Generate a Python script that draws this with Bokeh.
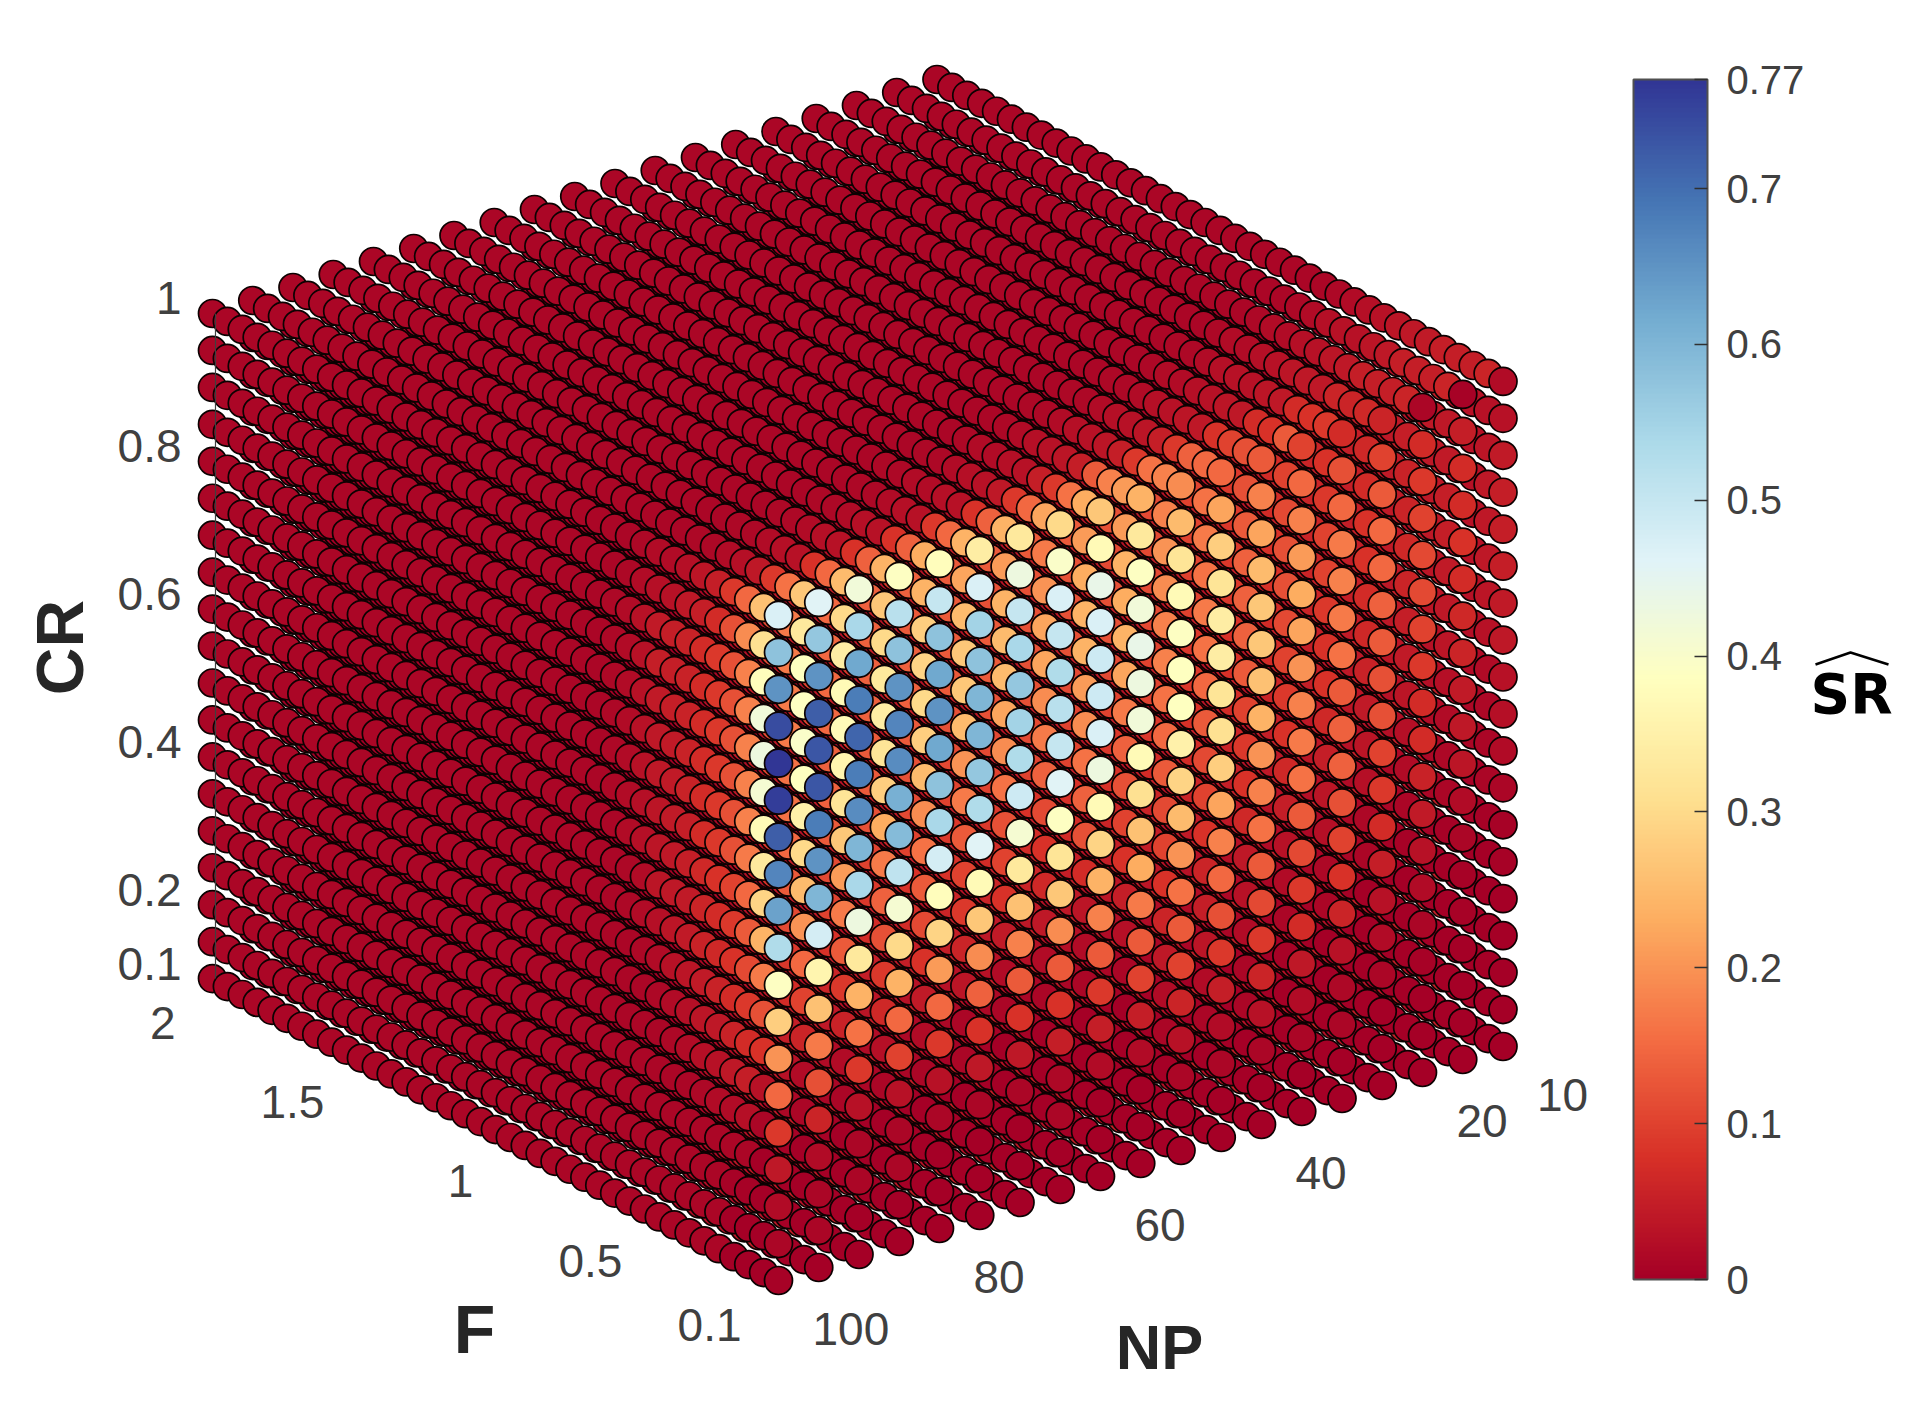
import numpy as np
from bokeh.embed import file_html
from bokeh.resources import INLINE
from bokeh.plotting import figure
from bokeh.models import ColumnDataSource, ColorBar, LinearColorMapper, FixedTicker, Range1d
from bokeh.core.properties import value
from bokeh.palettes import RdYlBu11

# grid values
F_values = [round(0.1 + 0.05 * i, 2) for i in range(39)]
NP_values = [100 - 5 * i for i in range(19)]
CR_values = [round(1 - 0.05 * i, 2) for i in range(19)]

# ticks
F_ticks = [2, 1.5, 1, 0.5, 0.1]
F_tick_labels = ["2", "1.5", "1", "0.5", "0.1"]
NP_ticks = [100, 80, 60, 40, 20, 10]
NP_tick_labels = ["100", "80", "60", "40", "20", "10"]
CR_ticks = [1, 0.8, 0.6, 0.4, 0.2, 0.1]
CR_tick_labels = ["1", "0.8", "0.6", "0.4", "0.2", "0.1"]
SR_ticks = [0, 0.1, 0.2, 0.3, 0.4, 0.5, 0.6, 0.7, 0.77]
SR_tick_labels = ["0", "0.1", "0.2", "0.3", "0.4", "0.5", "0.6", "0.7", "0.77"]

# SR at F = 0.1: one list per NP (100 .. 10), each running CR = 1 .. 0.1
sr_f010 = [
    [.47,.58,.65,.74,.77,.76,.72,.67,.63,.53,.39,.28,.20,.15,.09,.04,.02,.01,.005],
    [.46,.57,.65,.72,.73,.73,.68,.65,.60,.48,.36,.26,.17,.12,.06,.02,.01,.01,0],
    [.42,.54,.62,.68,.71,.68,.66,.60,.54,.43,.33,.24,.16,.09,.03,.01,.01,0,0],
    [.39,.52,.58,.65,.67,.66,.61,.59,.51,.41,.30,.24,.15,.10,.03,.01,.01,0,0],
    [.38,.50,.58,.62,.65,.62,.58,.54,.48,.38,.29,.21,.15,.09,.03,.01,0,0,0],
    [.34,.47,.55,.58,.60,.60,.57,.53,.46,.37,.27,.19,.14,.08,.04,.01,0,0,0],
    [.33,.43,.50,.54,.57,.55,.53,.49,.41,.33,.26,.18,.13,.08,.04,.01,0,0,0],
    [.30,.40,.47,.50,.53,.52,.50,.46,.39,.32,.27,.19,.13,.08,.05,.015,.01,0,0],
    [.27,.37,.44,.47,.49,.49,.47,.43,.37,.29,.24,.18,.13,.09,.05,.02,0,0,0],
    [.24,.33,.39,.42,.44,.43,.42,.37,.31,.26,.23,.17,.13,.10,.05,.02,0,0,0],
    [.19,.25,.32,.37,.39,.385,.385,.35,.29,.25,.20,.16,.13,.10,.06,.03,.01,0,0],
    [.15,.22,.28,.32,.34,.34,.32,.31,.28,.22,.18,.15,.12,.09,.05,.02,.01,0,0],
    [.13,.18,.22,.25,.27,.27,.26,.24,.20,.18,.16,.13,.11,.09,.06,.03,.01,0,0],
    [.10,.15,.18,.21,.23,.22,.20,.18,.17,.16,.13,.11,.09,.07,.04,.02,.01,0,0],
    [.07,.12,.15,.17,.18,.17,.16,.13,.14,.14,.12,.10,.08,.06,.03,.015,.01,0,0],
    [.06,.10,.13,.15,.15,.14,.13,.12,.12,.10,.09,.07,.05,.03,.02,.01,0,0,0],
    [.01,.07,.09,.10,.11,.11,.10,.09,.07,.07,.055,.045,.03,.02,.01,.005,0,0,0],
    [.005,.05,.07,.07,.08,.07,.065,.06,.045,.04,.035,.02,.01,.005,.005,0,0,0,0],
    [.02,.03,.045,.05,.05,.05,.045,.04,.03,.025,.02,.01,.005,.005,0,0,0,0,0],
]

# SR at F = 0.15, same layout
sr_f015 = [
    [.26,.31,.38,.42,.43,.41,.37,.33,.29,.24,.17,.12,.08,.03,.01,0,0,0,0],
    [.27,.33,.385,.39,.40,.385,.35,.30,.25,.20,.15,.10,.06,.02,.01,0,0,0,0],
    [.25,.30,.34,.37,.375,.36,.32,.27,.21,.17,.13,.09,.055,.02,.01,0,0,0,0],
    [.24,.27,.30,.33,.34,.32,.28,.23,.17,.14,.12,.09,.065,.025,.01,0,0,0,0],
    [.23,.24,.28,.29,.30,.28,.25,.19,.16,.13,.11,.08,.045,.02,.01,0,0,0,0],
    [.24,.22,.25,.27,.27,.25,.20,.17,.13,.10,.09,.06,.035,.01,.01,0,0,0,0],
    [.24,.21,.24,.25,.25,.22,.19,.16,.12,.10,.08,.045,.02,.01,0,0,0,0,0],
    [.22,.17,.20,.22,.22,.19,.17,.14,.11,.08,.065,.04,.02,.01,0,0,0,0,0],
    [.23,.21,.23,.24,.24,.21,.19,.16,.14,.12,.07,.035,.02,.01,0,0,0,0,0],
    [.21,.21,.24,.23,.24,.22,.17,.14,.12,.10,.08,.05,.025,.01,0,0,0,0,0],
    [.18,.18,.20,.19,.18,.18,.16,.15,.13,.11,.10,.08,.06,.04,.02,.01,0,0,0],
    [.15,.16,.17,.16,.17,.16,.15,.13,.11,.10,.08,.06,.05,.035,.02,.01,0,0,0],
    [.12,.12,.13,.14,.14,.14,.13,.10,.09,.08,.065,.04,.03,.02,.01,.01,0,0,0],
    [.13,.10,.11,.12,.12,.11,.10,.09,.08,.065,.05,.03,.02,.01,.005,0,0,0,0],
    [.09,.08,.09,.10,.10,.09,.08,.08,.065,.05,.035,.025,.015,.01,0,0,0,0,0],
    [.065,.065,.07,.08,.08,.07,.065,.055,.045,.035,.025,.015,.01,0,0,0,0,0,0],
    [.06,.05,.055,.06,.065,.06,.05,.045,.035,.025,.02,.01,.005,0,0,0,0,0,0],
    [.06,.04,.045,.05,.05,.045,.04,.035,.025,.02,.015,.01,.005,0,0,0,0,0,0],
    [.06,.03,.035,.04,.04,.04,.035,.03,.02,.015,.01,.01,.005,0,0,0,0,0,0],
]

# SR at F = 0.2: one list per CR (1 .. 0.1), each running NP = 100 .. 10
sr_f020 = [
    [.15,.16,.15,.14,.14,.15,.14,.15,.16,.18,.16,.14,.10,.08,.08,.06,.05,.05,.05],
    [.19,.17,.15,.14,.14,.13,.13,.13,.13,.12,.11,.10,.09,.07,.06,.05,.04,.04,.03],
    [.18,.17,.15,.14,.13,.13,.12,.12,.12,.11,.11,.10,.09,.07,.06,.05,.045,.04,.03],
    [.18,.17,.15,.14,.14,.13,.13,.12,.12,.12,.11,.10,.09,.08,.06,.05,.045,.04,.03],
    [.18,.17,.15,.14,.14,.13,.13,.12,.12,.12,.11,.10,.09,.08,.06,.05,.045,.04,.03],
    [.18,.16,.14,.13,.13,.12,.12,.12,.11,.11,.10,.09,.08,.07,.06,.05,.04,.035,.03],
    [.18,.16,.14,.13,.12,.11,.11,.11,.10,.10,.10,.09,.08,.07,.05,.045,.04,.035,.03],
    [.17,.15,.13,.12,.11,.10,.10,.10,.10,.09,.09,.08,.07,.06,.05,.04,.035,.03,.025],
    [.15,.13,.11,.10,.10,.09,.09,.08,.08,.08,.07,.07,.06,.05,.04,.035,.03,.025,.02],
    [.13,.11,.10,.09,.08,.08,.07,.07,.07,.06,.06,.06,.05,.04,.035,.03,.025,.02,.015],
    [.11,.09,.08,.07,.07,.06,.06,.06,.05,.05,.05,.045,.04,.03,.025,.02,.015,.015,.01],
    [.09,.07,.06,.05,.05,.05,.04,.04,.04,.035,.035,.03,.025,.02,.015,.015,.01,.01,.005],
    [.07,.05,.04,.035,.03,.03,.03,.025,.025,.02,.02,.02,.015,.01,.01,.01,.005,.005,.005],
    [.05,.03,.02,.02,.015,.015,.015,.01,.01,.01,.01,.01,.01,.005,.005,.005,0,0,0],
    [.025,.015,.01,.01,.01,.005,.005,.005,.005,.005,.005,0,0,0,0,0,0,0,0],
    [.01,.005,.005,0,0,0,0,0,0,0,0,0,0,0,0,0,0,0,0],
    [.005,0,0,0,0,0,0,0,0,0,0,0,0,0,0,0,0,0,0],
    [0,0,0,0,0,0,0,0,0,0,0,0,0,0,0,0,0,0,0],
    [0,0,0,0,0,0,0,0,0,0,0,0,0,0,0,0,0,0,0],
]

# SR at F = 0.25, same layout
sr_f025 = [
    [.09,.09,.08,.08,.08,.09,.08,.09,.09,.13,.09,.09,.08,.07,.07,.06,.05,.05,.05],
    [.12,.11,.10,.09,.09,.09,.09,.08,.08,.08,.07,.07,.06,.05,.05,.04,.035,.03,.025],
    [.12,.11,.10,.09,.09,.09,.08,.08,.08,.08,.07,.07,.06,.05,.05,.04,.04,.03,.025],
    [.12,.11,.10,.09,.09,.09,.08,.08,.08,.08,.07,.07,.06,.055,.05,.045,.04,.03,.025],
    [.12,.11,.10,.09,.09,.09,.08,.08,.08,.08,.07,.07,.06,.055,.05,.045,.04,.03,.025],
    [.12,.10,.09,.09,.08,.08,.08,.08,.07,.07,.07,.06,.06,.05,.045,.04,.035,.03,.025],
    [.12,.10,.09,.08,.08,.08,.07,.07,.07,.07,.06,.06,.055,.05,.04,.035,.03,.03,.02],
    [.12,.09,.08,.08,.07,.07,.07,.07,.06,.06,.06,.055,.05,.04,.035,.03,.03,.025,.02],
    [.10,.08,.07,.07,.06,.06,.06,.06,.055,.05,.05,.045,.04,.035,.03,.03,.025,.02,.015],
    [.09,.07,.06,.06,.055,.05,.05,.05,.045,.04,.04,.035,.03,.03,.025,.02,.02,.015,.01],
    [.08,.06,.05,.045,.04,.04,.04,.035,.035,.03,.03,.03,.025,.02,.02,.015,.01,.01,.01],
    [.07,.04,.035,.03,.03,.03,.025,.025,.025,.02,.02,.02,.015,.015,.01,.01,.01,.005,.005],
    [.055,.03,.02,.02,.02,.015,.015,.015,.01,.01,.01,.01,.01,.01,.005,.005,.005,0,0],
    [.04,.015,.01,.01,.01,.01,.005,.005,.005,.005,.005,.005,0,0,0,0,0,0,0],
    [.02,.01,.005,.005,0,0,0,0,0,0,0,0,0,0,0,0,0,0,0],
    [.01,0,0,0,0,0,0,0,0,0,0,0,0,0,0,0,0,0,0],
    [.005,0,0,0,0,0,0,0,0,0,0,0,0,0,0,0,0,0,0],
    [0,0,0,0,0,0,0,0,0,0,0,0,0,0,0,0,0,0,0],
    [0,0,0,0,0,0,0,0,0,0,0,0,0,0,0,0,0,0,0],
]

# NP = 100 face: one list per CR (1 .. 0.1), each running F = 0.3 .. 0.65
sr_np100_tail = [
    [.05,.035,.025,.02,.02,.015,.012,.012],
    [.07,.05,.04,.03,.025,.02,.015,.012],
    [.09,.07,.055,.05,.045,.03,.02,.015],
    [.09,.07,.055,.05,.05,.03,.02,.015],
    [.09,.07,.055,.05,.045,.03,.02,.015],
    [.09,.07,.055,.045,.04,.03,.02,.015],
    [.09,.07,.055,.045,.04,.03,.02,.015],
    [.09,.07,.05,.045,.035,.025,.02,.015],
    [.08,.065,.05,.04,.035,.025,.02,.012],
    [.07,.06,.045,.04,.035,.02,.015,.012],
    [.065,.055,.045,.035,.025,.02,.015,.012],
    [.055,.045,.035,.03,.02,.015,.012,.012],
    [.04,.035,.025,.02,.015,.012,.012,.01],
    [.03,.025,.02,.015,.012,.012,.01,.01],
    [.02,.015,.012,.012,.012,.01,.01,.01],
    [.012,.012,.01,.01,.01,.01,.01,.01],
    [.01,.01,.01,.01,.01,.01,.01,.01],
    [.01,.01,.01,.01,.01,.01,.01,.01],
    [.01,.01,.01,.01,.01,.01,.01,.01],
]

# CR = 1 face: one list per NP (100 .. 10), each running F = 0.3 .. 0.65
sr_cr1_tail = [
    [.05,.035,.025,.02,.02,.015,.012,.012],
    [.04,.025,.02,.015,.015,.012,.012,.012],
    [.03,.025,.02,.015,.015,.012,.012,.012],
    [.03,.025,.02,.015,.015,.012,.012,.012],
    [.03,.025,.02,.015,.015,.012,.012,.012],
    [.03,.025,.02,.015,.015,.012,.012,.012],
    [.03,.025,.02,.02,.015,.015,.012,.012],
    [.04,.03,.025,.02,.015,.015,.012,.012],
    [.05,.03,.025,.02,.02,.015,.012,.012],
    [.05,.035,.03,.025,.02,.015,.012,.012],
    [.05,.035,.03,.025,.02,.015,.015,.012],
    [.05,.035,.03,.025,.02,.015,.015,.012],
    [.04,.035,.03,.025,.02,.015,.015,.012],
    [.04,.035,.03,.025,.02,.02,.015,.012],
    [.04,.035,.03,.03,.025,.02,.015,.015],
    [.04,.04,.035,.03,.025,.02,.02,.015],
    [.05,.04,.035,.03,.025,.02,.02,.015],
    [.05,.04,.035,.03,.03,.025,.02,.015],
    [.05,.045,.04,.035,.03,.025,.02,.015],
]

# inside the cube, F = 0.3 .. 0.65
sr_inner = [.05, .04, .03, .025, .02, .015, .01, .01]
# outer faces past F = 0.65
sr_far = 0.012

SR_MAX = 0.77

# view of the cube, in page pixels
ORIGIN = (778.0, 1280.0)          # F = 0.1, NP = 100, CR = 0.1
PER_F = (-297.9, -158.9)
PER_NP = (-8.05, 2.6)
PER_CR = (0.0, -739.0)


def project(f, np_, cr):
    f, np_, cr = np.asarray(f, float), np.asarray(np_, float), np.asarray(cr, float)
    dx = (f - 0.1) * PER_F[0] + (np_ - 100) * PER_NP[0] + (cr - 0.1) * PER_CR[0]
    dy = (f - 0.1) * PER_F[1] + (np_ - 100) * PER_NP[1] + (cr - 0.1) * PER_CR[1]
    return ORIGIN[0] + dx, ORIGIN[1] + dy


def sr_at(k, c, r):
    if k == 0:
        return sr_f010[c][r]
    if k == 1:
        return sr_f015[c][r]
    if k == 2:
        return sr_f020[r][c]
    if k == 3:
        return sr_f025[r][c]
    if c == 0:
        return sr_np100_tail[r][k - 4] if k < 12 else sr_far
    if r == 0:
        return sr_cr1_tail[c][k - 4] if k < 12 else sr_far
    return sr_inner[k - 4] if k < 12 else 0.0


pts = []
for k in range(len(F_values)):
    for c in range(len(NP_values)):
        for r in range(len(CR_values)):
            if k < 10 or c < 6 or r < 6:
                depth = k / 38 + c / 18 + r / 18
                pts.append((depth, k, c, r))
pts.sort(key=lambda t: -t[0])

F_pts = [F_values[t[1]] for t in pts]
NP_pts = [NP_values[t[2]] for t in pts]
CR_pts = [CR_values[t[3]] for t in pts]
SR_pts = [sr_at(t[1], t[2], t[3]) for t in pts]
xs, ys = project(F_pts, NP_pts, CR_pts)

# 256-step RdYlBu running from SR = 0 (red) to SR_MAX (blue)
base = [h.lstrip("#") for h in reversed(RdYlBu11)]
rgb = np.array([[int(h[i:i + 2], 16) for i in (0, 2, 4)] for h in base], float)
t = np.linspace(0, 10, 256)
palette = ["#%02x%02x%02x" % tuple(int(round(np.interp(v, range(11), rgb[:, j]))) for j in range(3)) for v in t]
mapper = LinearColorMapper(palette=palette, low=0, high=SR_MAX)

p = figure(width=1899, height=1385, output_backend="svg", toolbar_location=None,
           x_range=Range1d(0, 1899), y_range=Range1d(1385, 0),
           x_axis_location=None, y_axis_location=None, min_border=0,
           outline_line_color=None, background_fill_color="white")
p.grid.visible = False

source = ColumnDataSource(dict(x=xs, y=ys, sr=SR_pts))
p.scatter("x", "y", source=source, size=28, marker="circle",
          fill_color={"field": "sr", "transform": mapper},
          line_color="#0c0202", line_width=1.7)

# CR axis line on the far left corner
ax_x, ax_y = project([2, 2], [100, 100], [1, 0.1])
p.line(ax_x + 3, ax_y, line_color="#404040", line_width=1.2)

TICK_COLOR = "#404040"
TICK_SIZE = "46px"
FONT = value("Liberation Sans")

x, y = project(F_ticks, [100] * len(F_ticks), [0.1] * len(F_ticks))
p.text(x - 37, y + 44, text=F_tick_labels, text_font=FONT, text_font_size=TICK_SIZE,
       text_color=TICK_COLOR, text_align="right", text_baseline="middle")

x, y = project([0.1] * len(NP_ticks), NP_ticks, [0.1] * len(NP_ticks))
p.text(x + 34, y + 48, text=NP_tick_labels, text_font=FONT, text_font_size=TICK_SIZE,
       text_color=TICK_COLOR, text_align="left", text_baseline="middle")

x, y = project([2] * len(CR_ticks), [100] * len(CR_ticks), CR_ticks)
p.text(x - 31, y - 15, text=CR_tick_labels, text_font=FONT, text_font_size=TICK_SIZE,
       text_color=TICK_COLOR, text_align="right", text_baseline="middle")

# axis titles
TITLE_COLOR = "#262626"
p.text([474], [1328], text=["F"], text_font=FONT, text_font_size="68px", text_font_style="bold",
       text_color=TITLE_COLOR, text_align="center", text_baseline="middle")
p.text([1159], [1346], text=["NP"], text_font=FONT, text_font_size="63px", text_font_style="bold",
       text_color=TITLE_COLOR, text_align="center", text_baseline="middle")
p.text([59], [647], text=["CR"], text_font=FONT, text_font_size="66px", text_font_style="bold",
       text_color=TITLE_COLOR, text_align="center", text_baseline="middle", angle=np.pi / 2)

# colour bar title with hat
p.text([1851], [693], text=["SR"], text_font=value("DejaVu Sans"), text_font_size="55px",
       text_font_style="bold", text_color="black", text_align="center", text_baseline="middle")
p.line([1815, 1850, 1888], [664, 652, 664], line_color="black", line_width=2.5)

bar = ColorBar(color_mapper=mapper, location=(1633, 106), width=74, height=1200, padding=0,
               ticker=FixedTicker(ticks=SR_ticks),
               major_label_overrides={k: v for k, v in zip(SR_ticks, SR_tick_labels)},
               major_label_text_font="Liberation Sans", major_label_text_font_size="40px",
               major_label_text_color=TICK_COLOR, label_standoff=19,
               major_tick_in=13, major_tick_out=0, major_tick_line_color="#303030",
               major_tick_line_width=1.5, minor_tick_line_color=None,
               bar_line_color="#505050", bar_line_width=2,
               border_line_color=None, background_fill_color=None)
p.add_layout(bar, "center")

open("out.html", "w").write(file_html(p, INLINE))
